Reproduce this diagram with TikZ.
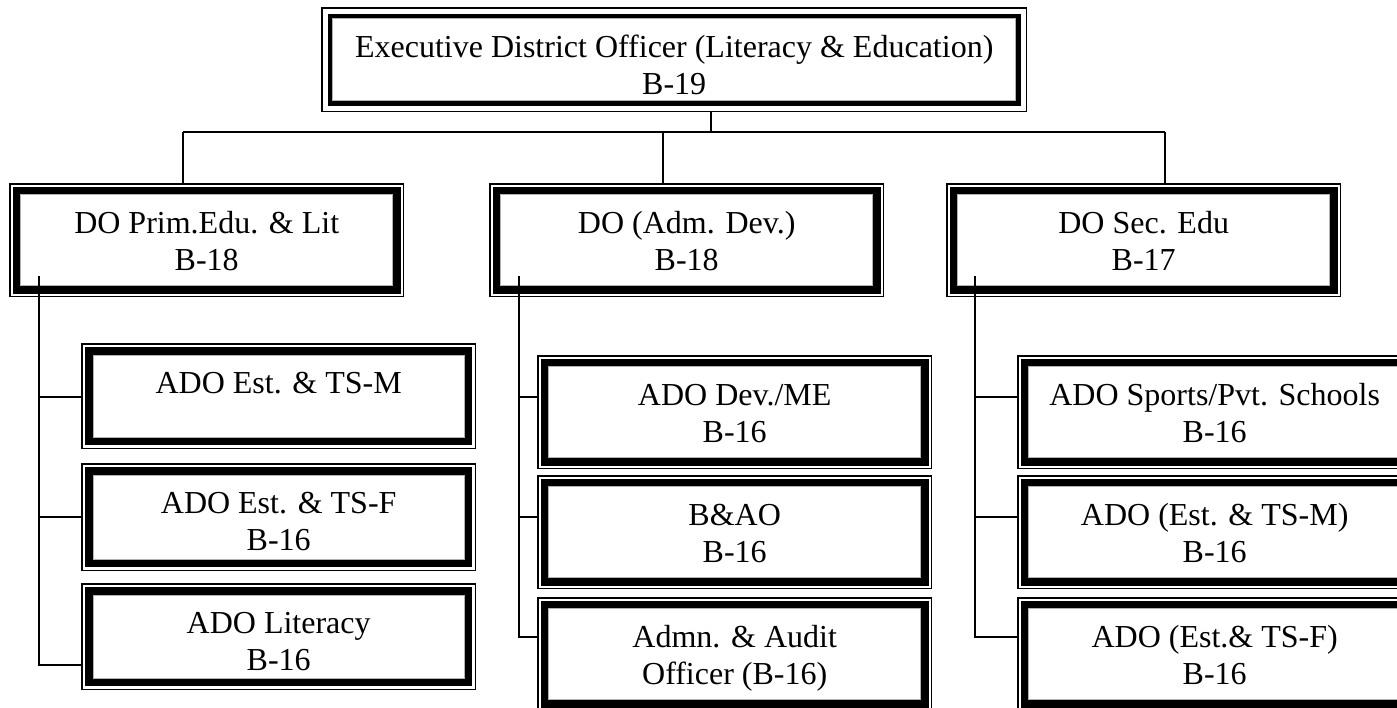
\documentclass[tikz,border=0pt]{standalone}
\usepackage{fontspec}
\setmainfont{Liberation Serif}
% two centred lines, baseline of the first line on the node's base
\newcommand\twoline[2]{\parbox[t]{#1}{\centering #2}}

\begin{document}
\begin{tikzpicture}[x=1pt,y=-1pt,
  box/.style={inner sep=0pt, anchor=north west, text height=50pt,
              font=\fontsize{32}{37.5}\selectfont},
  wire/.style={line width=1.6pt, black},
  thinrule/.style={line width=1.6pt, black},
  thickrule/.style={line width=#1, black},
  greyrule/.style={line width=1pt, black!30}]
\useasboundingbox (0,0) rectangle (1397,707);
\fill[white] (0,0) rectangle (1397,707);

% ---- head office
\node[box, text depth=55pt] (edo) at (321,7)
  {\twoline{706pt}{Executive District Officer (Literacy \& Education)\\B-19}};

% ---- district officers
\node[box, text depth=64pt] (dop) at (9,183)   {\twoline{395pt}{DO Prim.Edu. \& Lit\\B-18}};
\node[box, text depth=64pt] (doa) at (489,183) {\twoline{395pt}{DO (Adm. Dev.)\\B-18}};
\node[box, text depth=64pt] (dos) at (946,183) {\twoline{395pt}{DO Sec. Edu\\B-17}};

% ---- primary & literacy wing
\node[box, text depth=56pt] (estm) at (81,343) {\twoline{395pt}{ADO Est. \& TS-M}};
\node[box, text depth=58pt] (estf) at (81,463) {\twoline{395pt}{ADO Est. \& TS-F\\B-16}};
\node[box, text depth=57pt] (lit)  at (81,583) {\twoline{395pt}{ADO Literacy\\B-16}};

% ---- admin & development wing
\node[box, text depth=64pt] (dev) at (537,355) {\twoline{395pt}{ADO Dev./ME\\B-16}};
\node[box, text depth=64pt] (bao) at (537,475) {\twoline{395pt}{B\&AO\\B-16}};
\node[box, text depth=64pt] (aud) at (537,597) {\twoline{395pt}{Admn. \& Audit\\Officer (B-16)}};

% ---- secondary wing
\node[box, text depth=64pt] (spt)  at (1017,355) {\twoline{395pt}{ADO Sports/Pvt. Schools\\B-16}};
\node[box, text depth=64pt] (sem)  at (1017,475) {\twoline{395pt}{ADO (Est. \& TS-M)\\B-16}};
\node[box, text depth=64pt] (sef)  at (1017,597) {\twoline{395pt}{ADO (Est.\& TS-F)\\B-16}};

% ---- framed borders: thin outer rule, gap, heavy inner rule
\foreach \n/\o/\w in {edo/9/4.6, dop/7.4/7.2, doa/7.4/7.2, dos/7.4/7.2,
                      estm/7.8/7.6, estf/7.8/7.6, lit/7.8/7.6,
                      dev/7.6/7.4, bao/7.6/7.4, aud/7.6/7.4,
                      spt/7.6/7.4, sem/7.6/7.4, sef/7.6/7.4}{
  \draw[thinrule] ([shift={(0.8,0.8)}]\n.north west) rectangle ([shift={(-0.8,-0.8)}]\n.south east);
  \draw[thickrule=\w pt] ([shift={(\o,\o)}]\n.north west) rectangle ([shift={(-\o,-\o)}]\n.south east);
  \pgfmathsetmacro\g{\o+\w/2+0.5}
  \draw[greyrule] ([shift={(\g,\g)}]\n.north west) rectangle ([shift={(-\g,-\g)}]\n.south east);
}

% ---- top level connectors
\coordinate (hub) at (711,132);
\coordinate (bl)  at (183,132);
\coordinate (bm)  at (663,132);
\coordinate (br)  at (1165,132);
\draw[wire] (hub |- edo.south) -- (hub);
\draw[wire] (bl) -- (br);
\draw[wire] (bl) -- (bl |- dop.north);
\draw[wire] (bm) -- (bm |- doa.north);
\draw[wire] (br) -- (br |- dos.north);

% ---- wing buses
\coordinate (r1) at (0,397);
\coordinate (r2) at (0,517);
\coordinate (r3) at (0,637);
\coordinate (r3l) at (0,665);
\coordinate (lbus) at (39,276);
\coordinate (mbus) at (519,276);
\coordinate (rbus) at (975,276);

\draw[wire] (lbus) |- (lit.west |- r3l);
\draw[wire] (lbus |- r1) -- (estm.west |- r1);
\draw[wire] (lbus |- r2) -- (estf.west |- r2);

\draw[wire] (mbus) |- (aud.west |- r3);
\draw[wire] (mbus |- r1) -- (dev.west |- r1);
\draw[wire] (mbus |- r2) -- (bao.west |- r2);

\draw[wire] (rbus) |- (sef.west |- r3);
\draw[wire] (rbus |- r1) -- (spt.west |- r1);
\draw[wire] (rbus |- r2) -- (sem.west |- r2);
\end{tikzpicture}
\end{document}
